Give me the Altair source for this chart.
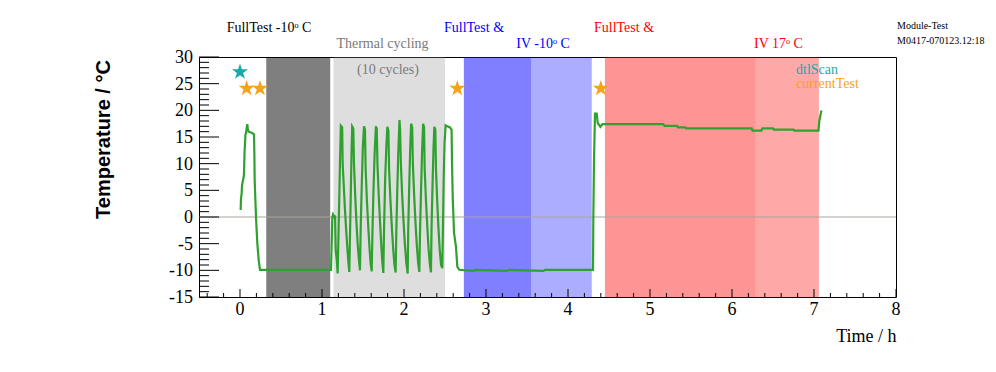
import altair as alt
import pandas as pd

# ---------------- data ----------------
time_h = [
    0.008, 0.012, 0.020, 0.025, 0.033, 0.045, 0.049, 0.055, 0.061, 0.067, 0.073, 0.080, 0.089,
    0.095, 0.106, 0.142, 0.171, 0.175, 0.179, 0.195, 0.211, 0.228, 0.244, 0.600, 1.110,
    1.118, 1.126, 1.135, 1.150, 1.159, 1.167, 1.180, 1.191,
    1.200, 1.210, 1.219, 1.230, 1.246, 1.252, 1.265, 1.280, 1.295, 1.310, 1.322, 1.333,
    1.342, 1.352, 1.360, 1.368, 1.382, 1.390, 1.405, 1.420, 1.435, 1.450, 1.463,
    1.472, 1.485, 1.498, 1.512, 1.524, 1.532, 1.548, 1.565, 1.580, 1.595, 1.606,
    1.615, 1.628, 1.642, 1.657, 1.668, 1.676, 1.692, 1.708, 1.722, 1.736, 1.748,
    1.757, 1.770, 1.784, 1.797, 1.810, 1.818, 1.835, 1.852, 1.868, 1.884, 1.898,
    1.906, 1.918, 1.930, 1.945, 1.952, 1.962, 1.978, 1.995, 2.010, 2.028, 2.045,
    2.052, 2.064, 2.076, 2.087, 2.100, 2.108, 2.124, 2.140, 2.155, 2.172, 2.187,
    2.195, 2.208, 2.220, 2.233, 2.245, 2.252, 2.268, 2.285, 2.300, 2.316, 2.329,
    2.336, 2.348, 2.360, 2.370, 2.382, 2.390, 2.405, 2.420, 2.435, 2.452, 2.467,
    2.475, 2.485, 2.495, 2.508, 2.530, 2.560, 2.580, 2.586, 2.594, 2.610, 2.634, 2.650, 2.674,
    2.850, 2.870, 3.250, 3.280, 3.700, 3.720, 4.305,
    4.309, 4.317, 4.329, 4.350, 4.362, 4.380, 4.395, 4.420, 4.450, 5.160, 5.180, 5.330,
    5.340, 5.430, 5.440, 6.240, 6.250, 6.360, 6.370, 6.500, 6.510, 6.750, 6.760, 7.055,
    7.065, 7.090,
]
temp_c = [
    1.3, 3.5, 4.4, 6.0, 6.6, 7.5, 8.2, 12.0, 13.8, 15.5, 15.7, 16.5, 17.4,
    16.5, 16.0, 15.8, 15.5, 12.0, 6.9, 0.0, -4.9, -8.1, -9.9, -9.9, -9.9,
    -5.0, 0.0, 0.5, 0.0, 0.3, -6.2, -8.0, -10.6,
    -4.0, 3.0, 10.0, 17.1, 16.8, 10.0, 6.0, 1.4, -2.5, -6.0, -8.5, -10.3,
    -3.0, 5.0, 12.0, 17.0, 16.6, 10.0, 4.0, -1.0, -5.0, -8.0, -10.0,
    -2.0, 6.0, 13.0, 17.0, 16.4, 9.0, 3.0, -2.0, -6.0, -9.0, -10.2,
    -3.0, 5.0, 12.0, 17.0, 16.5, 10.0, 4.0, -1.0, -5.0, -8.5, -10.5,
    -2.0, 7.0, 13.0, 16.9, 16.2, 9.0, 3.0, -2.0, -6.0, -9.0, -10.4,
    -3.0, 5.0, 12.0, 18.2, 16.5, 10.0, 4.0, -1.0, -5.0, -8.5, -10.6,
    -2.0, 6.0, 13.0, 17.5, 16.8, 10.0, 4.0, -1.0, -5.0, -8.5, -10.3,
    -3.0, 5.0, 12.0, 17.5, 16.8, 9.0, 3.0, -2.0, -6.0, -9.0, -10.4,
    -2.0, 6.0, 13.0, 16.9, 16.4, 9.0, 3.0, -2.0, -6.0, -9.0, -9.6,
    -2.0, 8.0, 14.0, 17.2, 17.0, 16.8, 16.4, 10.0, 3.8, -3.0, -5.6, -9.3, -9.9,
    -10.1, -9.9, -10.1, -9.9, -10.1, -9.9, -9.9,
    0.0, 10.4, 19.4, 19.4, 17.6, 17.25, 16.9, 17.4, 17.4, 17.4, 17.1, 17.1,
    16.8, 16.8, 16.6, 16.6, 16.2, 16.2, 16.6, 16.6, 16.4, 16.4, 16.2, 16.2,
    18.0, 20.0,
]

# shaded test phases
phase_start = [0.32, 1.14, 2.73, 3.55, 4.45, 6.29]
phase_end = [1.10, 2.50, 3.55, 4.29, 6.29, 7.06]

# test markers
marker_time = [0.0, 0.081, 0.243, 2.65, 4.40]
marker_temp = [27.2, 24.1, 24.1, 24.1, 24.1]
marker_kind = ["dtlScan", "currentTest", "currentTest", "currentTest", "currentTest"]

# texts
x_ticks = [0, 1, 2, 3, 4, 5, 6, 7, 8]
y_ticks = [-15, -10, -5, 0, 5, 10, 15, 20, 25, 30]
x_title = "Time / h"
y_title = "Temperature / °C"
phase_labels = ["FullTest -10ᵒ C", "Thermal cycling", "(10 cycles)", "FullTest &",
                "IV -10ᵒ C", "FullTest &", "IV 17ᵒ C"]
legend_labels = ["dtlScan", "currentTest"]
info_labels = ["Module-Test", "M0417-070123.12:18"]

# ---------------- styling / layout ----------------
W, H = 697, 240
SERIF = "Liberation Serif"
SANS = "Liberation Sans"
GREEN = "#2fa12f"
CYAN = "#17a9ab"
ORANGE = "#f5a31a"

xs = alt.Scale(domain=[-0.5, 8], nice=False, zero=False)
ys = alt.Scale(domain=[-15, 30], nice=False, zero=False)

xaxis = alt.Axis(
    values=x_ticks, ticks=False, domain=False, grid=False, labels=False,
    title=x_title, titleFont=SERIF, titleFontSize=18, titleFontWeight="normal",
    titleColor="black", titleX=W, titleY=30, titleAlign="right", titleAnchor="end",
    titleBaseline="top")
yaxis = alt.Axis(
    values=y_ticks, ticks=False, domain=False, grid=False, labels=False,
    title=y_title, titleFont=SANS, titleFontSize=20, titleFontWeight="bold",
    titleColor="black", titleX=-96, titleY=82, titleAngle=270,
    titleAlign="center", titleBaseline="middle")

phase_fill = ["#000000", "#8a8a8a", "#0000ff", "#0000ff", "#ff0000", "#ff0000"]
phase_op = [0.5, 0.28, 0.5, 0.32, 0.42, 0.34]
phases = pd.DataFrame({"s": phase_start, "e": phase_end, "c": phase_fill, "o": phase_op})
rects = alt.Chart(phases).mark_rect().encode(
    x=alt.X("s:Q", scale=xs, axis=xaxis),
    x2="e:Q",
    y=alt.value(0),
    y2=alt.value(H),
    color=alt.Color("c:N", scale=None),
    opacity=alt.Opacity("o:Q", scale=None),
)

zero = alt.Chart(pd.DataFrame({"z": [0]})).mark_rule(color="#a8a49c", strokeWidth=1).encode(
    y=alt.Y("z:Q", scale=ys, axis=yaxis), x=alt.value(0), x2=alt.value(W)
)

df = pd.DataFrame({"t": time_h, "T": temp_c})
line = alt.Chart(df).mark_line(color=GREEN, strokeWidth=2.2).encode(
    x=alt.X("t:Q", scale=xs, axis=xaxis),
    y=alt.Y("T:Q", scale=ys, axis=yaxis),
    order="t:Q",
)

STAR = ("M0,-1L0.22,-0.31L0.95,-0.31L0.36,0.12L0.59,0.81L0,0.38L-0.59,0.81"
        "L-0.36,0.12L-0.95,-0.31L-0.22,-0.31Z")
mk = pd.DataFrame({"t": marker_time, "T": marker_temp, "k": marker_kind})
stars = alt.Chart(mk).mark_point(shape=STAR, filled=True, size=290, opacity=1).encode(
    x=alt.X("t:Q", scale=xs, axis=xaxis), y=alt.Y("T:Q", scale=ys, axis=yaxis),
    color=alt.Color("k:N", scale=alt.Scale(domain=legend_labels, range=[CYAN, ORANGE]),
                    legend=None),
)

# inward ROOT-style ticks
ymaj = pd.DataFrame({"v": y_ticks, "lab": [str(v) for v in y_ticks]})
ymin = pd.DataFrame({"v": [v for v in range(-15, 31) if v % 5 != 0]})
xmaj = pd.DataFrame({"v": x_ticks, "lab": [str(v) for v in x_ticks]})
xmin_vals = [round(-0.4 + 0.2 * i, 2) for i in range(43)]
xmin = pd.DataFrame({"v": [v for v in xmin_vals if abs(v - round(v)) > 1e-6]})
tk = [
    alt.Chart(ymaj).mark_rule(color="black").encode(
        y=alt.Y("v:Q", scale=ys, axis=yaxis), x=alt.value(0), x2=alt.value(20)),
    alt.Chart(ymin).mark_rule(color="black").encode(
        y=alt.Y("v:Q", scale=ys, axis=yaxis), x=alt.value(0), x2=alt.value(10)),
    alt.Chart(xmaj).mark_rule(color="black").encode(
        x=alt.X("v:Q", scale=xs, axis=xaxis), y=alt.value(H), y2=alt.value(H - 8)),
    alt.Chart(xmin).mark_rule(color="black").encode(
        x=alt.X("v:Q", scale=xs, axis=xaxis), y=alt.value(H), y2=alt.value(H - 4)),
    # tick labels
    alt.Chart(ymaj).mark_text(font=SERIF, fontSize=18, color="black", align="right",
                              baseline="middle", dy=1).encode(
        y=alt.Y("v:Q", scale=ys, axis=yaxis), x=alt.value(-6), text="lab:N"),
    alt.Chart(xmaj).mark_text(font=SERIF, fontSize=18, color="black", align="center",
                              baseline="top").encode(
        x=alt.X("v:Q", scale=xs, axis=xaxis), y=alt.value(H + 4), text="lab:N"),
]


def label(txt, x, y, color, size=14, align="center"):
    return alt.Chart(pd.DataFrame({"s": [txt]})).mark_text(
        font=SERIF, fontSize=size, color=color, align=align, baseline="middle"
    ).encode(x=alt.value(x), y=alt.value(y), text="s:N")


texts = [
    label(phase_labels[0], 70, -29, "black"),
    label(phase_labels[1], 183.5, -13.5, "#7a7a7a"),
    label(phase_labels[2], 189, 13, "#7a7a7a"),
    label(phase_labels[3], 275, -29, "#0000ff"),
    label(phase_labels[4], 344, -13.5, "#0000ff"),
    label(phase_labels[5], 425, -29, "#ff0000"),
    label(phase_labels[6], 579.5, -13.5, "#ff0000"),
    label(legend_labels[0], 597, 13, CYAN, align="left"),
    label(legend_labels[1], 597, 27, ORANGE, align="left"),
    label(info_labels[0], 698, -31, "black", size=10, align="left"),
    label(info_labels[1], 698, -16, "black", size=10, align="left"),
]

chart = alt.layer(rects, zero, *tk, line, stars, *texts).properties(
    width=W, height=H,
    padding={"left": 191, "top": 49, "right": 92, "bottom": 60},
    autosize=alt.AutoSizeParams(type="none"),
    background="white",
).configure_view(
    stroke="black", strokeWidth=1
)

chart.save("out.html", embed_options={"renderer": "svg", "actions": False})
